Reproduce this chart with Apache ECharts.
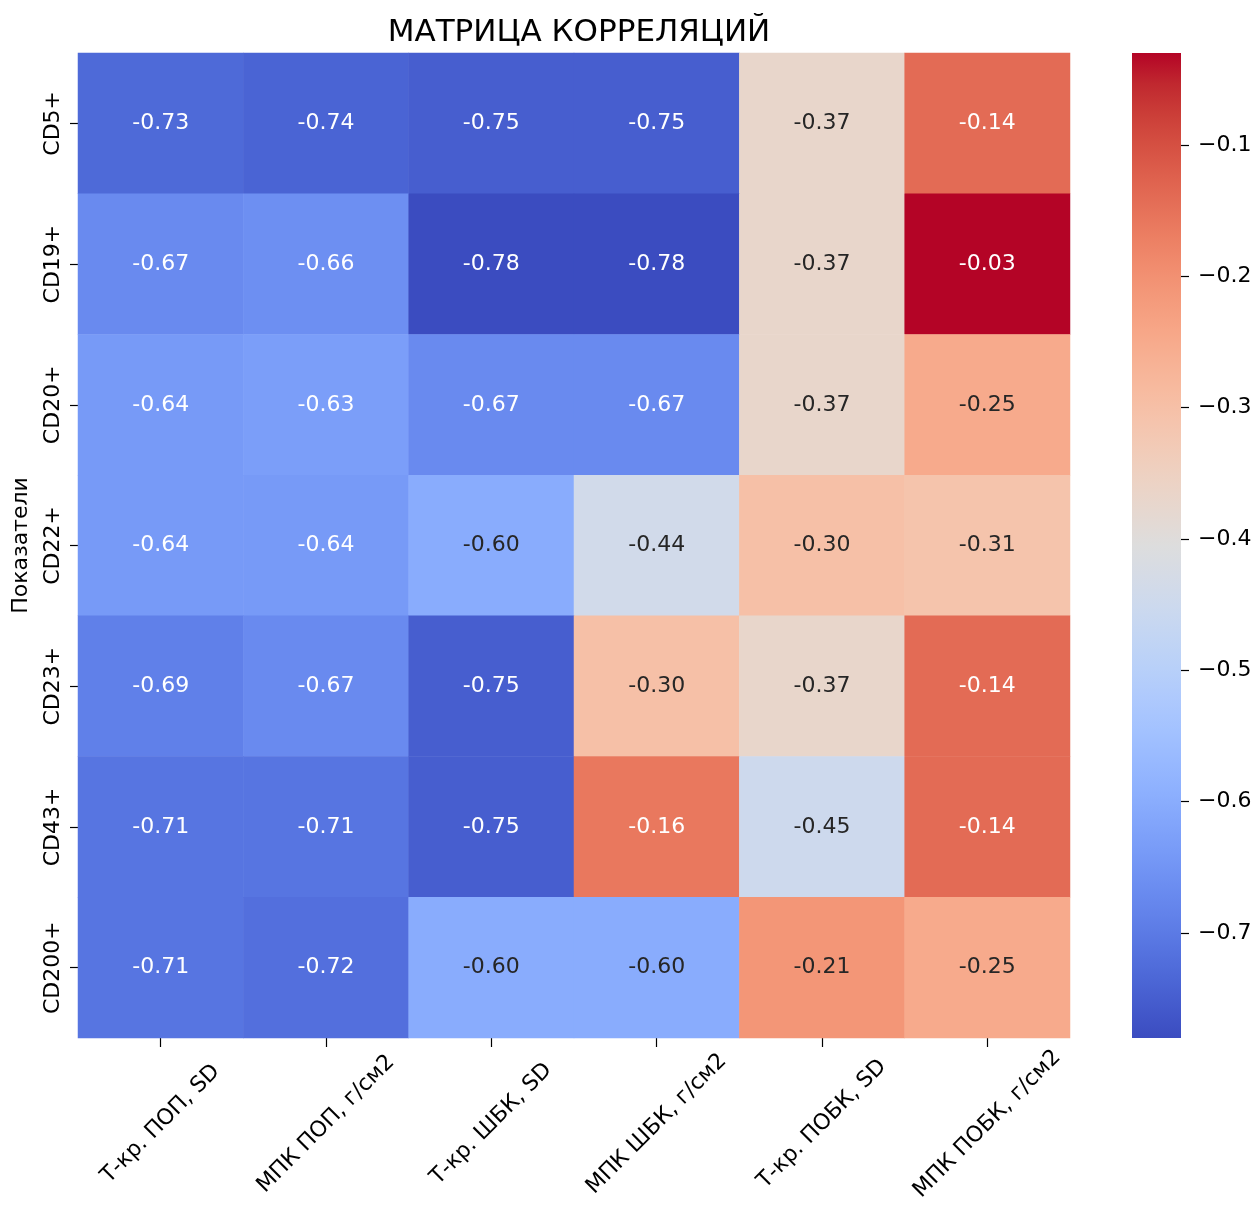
<!DOCTYPE html>
<html><head><meta charset="utf-8">
<script src="https://cdn.jsdelivr.net/npm/echarts@6/dist/echarts.min.js"></script>
<style>html,body{margin:0;padding:0;background:#fff}#c{width:1254px;height:1207px}</style>
</head><body><div id="c"></div>
<script>
// ---- data ----
const rowLabels = ['CD5+', 'CD19+', 'CD20+', 'CD22+', 'CD23+', 'CD43+', 'CD200+'];
const colLabels = ['Т-кр. ПОП, SD', 'МПК ПОП, г/см2', 'Т-кр. ШБК, SD', 'МПК ШБК, г/см2', 'Т-кр. ПОБК, SD', 'МПК ПОБК, г/см2'];
const rowCD5   = [-0.73, -0.74, -0.75, -0.75, -0.37, -0.14];
const rowCD19  = [-0.67, -0.66, -0.78, -0.78, -0.37, -0.03];
const rowCD20  = [-0.64, -0.63, -0.67, -0.67, -0.37, -0.25];
const rowCD22  = [-0.64, -0.64, -0.60, -0.44, -0.30, -0.31];
const rowCD23  = [-0.69, -0.67, -0.75, -0.30, -0.37, -0.14];
const rowCD43  = [-0.71, -0.71, -0.75, -0.16, -0.45, -0.14];
const rowCD200 = [-0.71, -0.72, -0.60, -0.60, -0.21, -0.25];
const colorbarTicks = [-0.7, -0.6, -0.5, -0.4, -0.3, -0.2, -0.1];
const titleText = 'МАТРИЦА КОРРЕЛЯЦИЙ';
const yAxisTitle = 'Показатели';

// coolwarm colormap (Moreland), 33 stops low -> high
const coolwarm = [
  [59,76,192],[68,90,204],[77,104,215],[87,117,225],[98,130,234],[108,142,241],[119,154,247],[130,165,251],
  [141,176,254],[152,185,255],[163,194,255],[174,201,253],[184,208,249],[194,213,244],[204,217,238],[213,219,230],
  [221,221,221],[229,216,209],[236,211,197],[241,204,185],[245,196,173],[247,187,160],[247,177,148],[247,166,135],
  [244,154,123],[241,141,111],[236,127,99],[229,112,88],[222,96,77],[213,80,66],[203,62,56],[192,40,47],[180,4,38]
];

const rows = [rowCD5, rowCD19, rowCD20, rowCD22, rowCD23, rowCD43, rowCD200];
const allVals = rows.flat();
const vmin = Math.min(...allVals), vmax = Math.max(...allVals);
const toHex = c => '#' + c.map(v => Math.round(v).toString(16).padStart(2, '0')).join('');
const cmapHex = coolwarm.map(toHex);

function cmap(v) {
  let t = (v - vmin) / (vmax - vmin);
  t = Math.max(0, Math.min(1, t));
  const p = t * (coolwarm.length - 1);
  const i = Math.min(Math.floor(p), coolwarm.length - 2);
  const f = p - i;
  return coolwarm[i].map((a, k) => a + (coolwarm[i + 1][k] - a) * f);
}
function lum(rgb) {
  const l = rgb.map(c => { c /= 255; return c <= 0.03928 ? c / 12.92 : Math.pow((c + 0.055) / 1.055, 2.4); });
  return 0.2126 * l[0] + 0.7152 * l[1] + 0.0722 * l[2];
}

const heatData = [];
rows.forEach((r, ri) => r.forEach((v, ci) => {
  heatData.push({
    value: [ci, ri, v],
    label: { color: lum(cmap(v)) > 0.408 ? '#262626' : '#ffffff' }
  });
}));

const FONT = 'DejaVu Sans';
const FS = 22;

const chart = echarts.init(document.getElementById('c'), null, { renderer: 'canvas' });
chart.setOption({
  backgroundColor: '#ffffff',
  animation: false,
  title: {
    text: titleText, left: 574, top: 12, textAlign: 'center',
    textStyle: { fontFamily: FONT, fontSize: 31, fontWeight: 'normal', color: '#000' }
  },
  grid: [
    { left: 78, top: 53, width: 992, height: 985, containLabel: false, outerBoundsMode: 'none' },
    { left: 1132, top: 53, width: 49, height: 985, containLabel: false, outerBoundsMode: 'none' }
  ],
  xAxis: [
    {
      type: 'category', gridIndex: 0, data: colLabels, boundaryGap: true,
      axisLine: { show: false },
      axisTick: { show: true, alignWithLabel: true, length: 9, lineStyle: { color: '#000', width: 1.2 } },
      axisLabel: {
        rotate: 45, align: 'center', verticalAlign: 'middle', margin: 86,
        fontFamily: FONT, fontSize: FS, color: '#000', interval: 0, hideOverlap: false
      },
      splitLine: { show: false }
    },
    {
      type: 'category', gridIndex: 1, data: ['cb'], show: false
    }
  ],
  yAxis: [
    {
      type: 'category', gridIndex: 0, data: rowLabels, inverse: true, boundaryGap: true,
      axisLine: { show: false },
      axisTick: { show: true, alignWithLabel: true, length: 8, lineStyle: { color: '#000', width: 1.2 } },
      axisLabel: {
        rotate: 90, margin: 14, fontFamily: FONT, fontSize: FS, color: '#000', interval: 0
      },
      name: yAxisTitle, nameLocation: 'middle', nameGap: 46, nameRotate: 90,
      nameTextStyle: { fontFamily: FONT, fontSize: FS, color: '#000' },
      splitLine: { show: false }
    },
    {
      type: 'value', gridIndex: 1, position: 'right', min: vmin, max: vmax,
      axisLine: { show: false },
      splitLine: { show: false },
      axisTick: { show: true, length: 8, customValues: colorbarTicks, lineStyle: { color: '#000', width: 1.2 } },
      axisLabel: {
        show: true, margin: 17, customValues: colorbarTicks,
        fontFamily: FONT, fontSize: FS, color: '#000',
        formatter: v => (v < 0 ? '\u2212' : '') + Math.abs(v).toFixed(1)
      }
    }
  ],
  visualMap: {
    type: 'continuous', show: false, min: vmin, max: vmax, dimension: 2, seriesIndex: 0,
    inRange: { color: cmapHex }
  },
  series: [
    {
      type: 'heatmap', xAxisIndex: 0, yAxisIndex: 0, data: heatData,
      itemStyle: { borderWidth: 0 },
      label: {
        show: true, fontFamily: FONT, fontSize: FS,
        formatter: p => p.value[2].toFixed(2)
      },
      emphasis: { disabled: true }
    },
    {
      type: 'custom', xAxisIndex: 1, yAxisIndex: 1, silent: true,
      data: [[0, vmin, vmax]],
      renderItem: (params, api) => {
        const top = api.coord([api.value(0), api.value(2)]);
        const bot = api.coord([api.value(0), api.value(1)]);
        const w = api.size([1, 0])[0];
        const stops = cmapHex.slice().reverse().map((c, i, a) => ({ offset: i / (a.length - 1), color: c }));
        return {
          type: 'rect',
          shape: { x: top[0] - w / 2, y: top[1], width: w, height: bot[1] - top[1] },
          style: { fill: new echarts.graphic.LinearGradient(0, 0, 0, 1, stops) }
        };
      }
    }
  ]
});
</script>
</body></html>
